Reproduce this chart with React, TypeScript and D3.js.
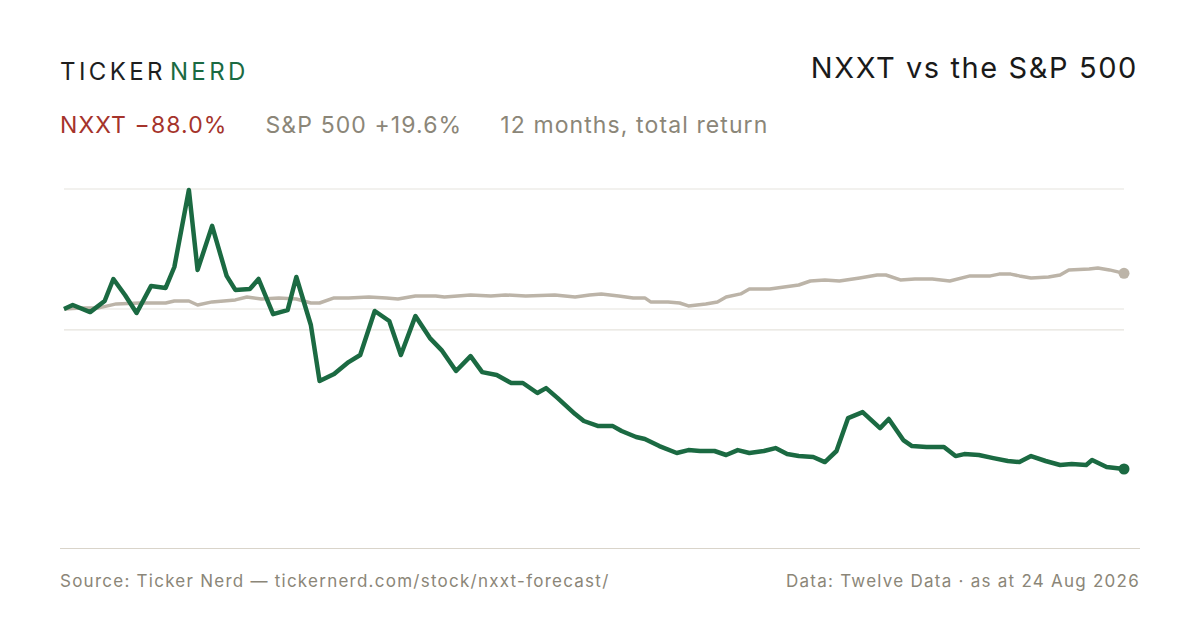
import React from "react";
import * as d3 from "d3";

// days since start (0..365) and total return in %
const nxxtDays = [0, 3, 9, 14, 17, 21, 25, 30, 35, 38, 43, 46, 51, 56, 59, 64, 67, 72, 77, 80, 85, 88, 93, 98, 102, 107, 112, 116, 121, 126, 130, 135, 140, 144, 149, 154, 158, 163, 166, 170, 176, 179, 184, 189, 192, 197, 200, 205, 211, 215, 219, 224, 228, 232, 236, 241, 245, 249, 253, 258, 262, 266, 270, 275, 281, 284, 289, 292, 297, 303, 307, 310, 315, 320, 325, 329, 333, 338, 343, 347, 352, 354, 359, 365];
const nxxtValues = [0, 2.2, -1.7, 4.4, 16.5, 7.7, -2.2, 12.7, 11.6, 23.1, 65.5, 21.5, 45.7, 18.2, 10.5, 11, 16.5, -2.8, -0.6, 17.6, -8.8, -39.6, -35.8, -29.2, -25.3, -1.1, -6.6, -25.3, -3.9, -16, -22.6, -34.1, -25.9, -34.7, -36.3, -40.7, -40.7, -46.2, -43.5, -49, -57.8, -61.6, -64.4, -64.4, -67.1, -70.4, -71.5, -75.4, -79.2, -77.6, -78.1, -78.1, -80.3, -77.6, -79.2, -78.1, -76.5, -79.8, -80.9, -81.4, -84.2, -78.1, -60, -56.7, -65.5, -60.5, -72.1, -75.4, -75.9, -75.9, -80.9, -79.8, -80.3, -82, -83.6, -84.2, -80.9, -83.6, -85.8, -85.3, -85.8, -83.1, -86.9, -88];

const spxDays = [0, 6, 12, 18, 26, 35, 38, 43, 46, 51, 59, 63, 68, 74, 80, 85, 88, 93, 98, 105, 111, 115, 121, 128, 131, 140, 147, 152, 159, 169, 176, 181, 185, 191, 196, 200, 202, 208, 212, 215, 221, 225, 228, 233, 236, 243, 253, 257, 262, 267, 274, 280, 283, 288, 293, 299, 305, 312, 319, 322, 326, 329, 333, 339, 343, 346, 353, 356, 360, 365];
const spxValues = [0, 0.6, 0.6, 2.8, 3.3, 3.3, 4.4, 4.4, 2.2, 3.9, 5, 6.6, 5.5, 6, 5.5, 3.3, 3.3, 6.1, 6.1, 6.6, 6.1, 5.5, 7.2, 7.2, 6.6, 7.7, 7.2, 7.7, 7.2, 7.7, 6.6, 7.7, 8.3, 7.2, 6.1, 6.1, 3.9, 3.9, 3.3, 1.7, 2.8, 3.9, 6.6, 8.3, 11, 11, 13.2, 15.4, 15.9, 15.4, 17.1, 18.7, 18.7, 16, 16.5, 16.5, 15.4, 18.2, 18.2, 19.2, 19.2, 18.2, 17.1, 17.6, 18.7, 21.5, 22, 22.6, 21.5, 19.6];

const gridValues = [66, 0, -11.5];

const GREEN = "#1b6a42";
const BEIGE = "#bcb4a8";
const GREY = "#8b8678";
const RED = "#a5332b";
const FONT = "Inter, 'Noto Sans', sans-serif";

export default function App() {
  const x = d3.scaleLinear().domain([0, 365]).range([64, 1124]);
  const y = d3.scaleLinear().domain([0, -88]).range([309, 469]);
  const line = d3
    .line<[number, number]>()
    .x((d) => x(d[0]))
    .y((d) => y(d[1]));
  const nxxt = nxxtDays.map((d, i) => [d, nxxtValues[i]] as [number, number]);
  const spx = spxDays.map((d, i) => [d, spxValues[i]] as [number, number]);
  const nLast = nxxt[nxxt.length - 1];
  const sLast = spx[spx.length - 1];

  return (
    <svg
      width={1200}
      height={630}
      style={{ position: "fixed", top: 0, left: 0, background: "#fff" }}
      fontFamily={FONT}
    >
      <rect width={1200} height={630} fill="#fff" />
      <text x={60} y={80} fontSize={24} letterSpacing={3.4} fill="#1e1e1e">
        TICKER<tspan fill={GREEN} dx={4}>NERD</tspan>
      </text>
      <text x={1138} y={78} fontSize={29} letterSpacing={1.6} textAnchor="end" fill="#1a1a1a">
        NXXT vs the S&amp;P 500
      </text>
      <text x={60} y={133} fontSize={23} letterSpacing={1.1} fill={RED}>
        NXXT −88.0%
        <tspan fill={GREY} dx={38}>S&amp;P 500 +19.6%</tspan>
        <tspan fill={GREY} dx={38}>12 months, total return</tspan>
      </text>

      {gridValues.map((v) => (
        <line key={v} x1={64} x2={1124} y1={y(v)} y2={y(v)} stroke="#e6e3dd" strokeWidth={1.2} />
      ))}

      <path d={line(spx) || ""} fill="none" stroke={BEIGE} strokeWidth={3.5} strokeLinejoin="round" />
      <circle cx={x(sLast[0])} cy={y(sLast[1])} r={5.5} fill={BEIGE} />
      <path d={line(nxxt) || ""} fill="none" stroke={GREEN} strokeWidth={4.5} strokeLinejoin="round" />
      <circle cx={x(nLast[0])} cy={y(nLast[1])} r={5.5} fill={GREEN} />

      <line x1={60} x2={1140} y1={548.5} y2={548.5} stroke="#d9d4ca" strokeWidth={1.2} />
      <text x={60} y={587} fontSize={17} letterSpacing={1.25} fill={GREY}>
        Source: Ticker Nerd — tickernerd.com/stock/nxxt-forecast/
      </text>
      <text x={1140} y={587} fontSize={17} letterSpacing={1.25} fill={GREY} textAnchor="end">
        Data: Twelve Data · as at 24 Aug 2026
      </text>
    </svg>
  );
}
